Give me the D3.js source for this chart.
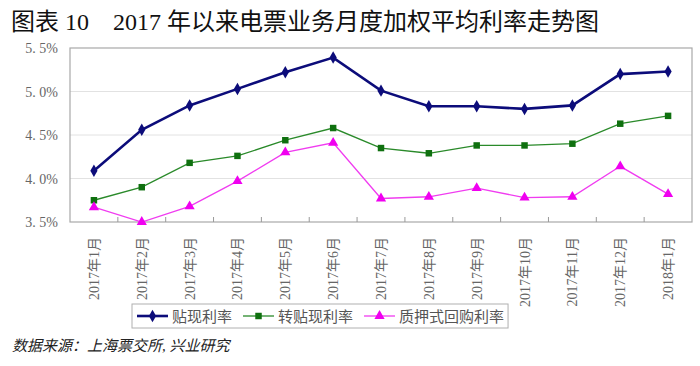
<!DOCTYPE html>
<html>
<head>
<meta charset="utf-8">
<script src="https://cdn.jsdelivr.net/npm/d3@7"></script>
<style>
  body { margin: 0; background: #fff; }
  svg { display: block; }
</style>
</head>
<body>
<div id="chart"></div>
<script>
// monthly weighted average rates of e-bills (%)
var months = ["2017年1月","2017年2月","2017年3月","2017年4月","2017年5月","2017年6月",
              "2017年7月","2017年8月","2017年9月","2017年10月","2017年11月","2017年12月","2018年1月"];
var discountRate   = [4.09, 4.56, 4.84, 5.03, 5.22, 5.39, 5.01, 4.83, 4.83, 4.80, 4.84, 5.20, 5.23];
var rediscountRate = [3.75, 3.90, 4.18, 4.26, 4.44, 4.58, 4.35, 4.29, 4.38, 4.38, 4.40, 4.63, 4.72];
var repoRate       = [3.67, 3.50, 3.68, 3.97, 4.30, 4.41, 3.77, 3.79, 3.89, 3.78, 3.79, 4.14, 3.82];
var seriesNames = ["贴现利率", "转贴现利率", "质押式回购利率"];
var yTicks = [3.5, 4.0, 4.5, 5.0, 5.5];

var W = 700, H = 366;
var plotL = 70, plotR = 692, plotT = 48, plotB = 222;
var serif = "'Liberation Serif','Times New Roman','Noto Sans CJK SC',serif";

var svg = d3.select("#chart").append("svg")
    .attr("width", W).attr("height", H);

// title
svg.append("text")
    .attr("x", 11).attr("y", 30)
    .attr("font-family", serif)
    .attr("font-size", "24px")
    .attr("fill", "#111")
    .text("图表 10\u00a0\u00a0\u00a0 2017 年以来电票业务月度加权平均利率走势图");

var x = d3.scalePoint().domain(months).range([plotL, plotR]).padding(0.5);
var y = d3.scaleLinear().domain([3.5, 5.5]).range([plotB, plotT]);

// gridlines
svg.append("g").selectAll("line")
    .data(yTicks.slice(1, -1))
    .enter().append("line")
    .attr("x1", plotL).attr("x2", plotR)
    .attr("y1", function(d){ return y(d); })
    .attr("y2", function(d){ return y(d); })
    .attr("stroke", "#e2e2e2").attr("stroke-width", 1);

// frame
svg.append("rect")
    .attr("x", plotL).attr("y", plotT)
    .attr("width", plotR - plotL).attr("height", plotB - plotT)
    .attr("fill", "none").attr("stroke", "#a8a8a8").attr("stroke-width", 1.2);

// y labels
svg.append("g").selectAll("text")
    .data(yTicks)
    .enter().append("text")
    .attr("x", 58)
    .attr("y", function(d){ return y(d) + 5; })
    .attr("text-anchor", "end")
    .attr("font-family", serif)
    .attr("font-size", "14px")
    .attr("fill", "#666")
    .text(function(d){ return d3.format(".1f")(d).replace(".", ". ") + "%"; });

// x ticks at category boundaries, pointing inward
var step = x.step();
svg.append("g").selectAll("line")
    .data(months.slice(1))
    .enter().append("line")
    .attr("x1", function(d){ return x(d) - step / 2; })
    .attr("x2", function(d){ return x(d) - step / 2; })
    .attr("y1", plotB - 5).attr("y2", plotB)
    .attr("stroke", "#999");

// x labels rotated
svg.append("g").selectAll("text")
    .data(months)
    .enter().append("text")
    .attr("transform", function(d){ return "translate(" + (x(d) + 5) + "," + 237 + ") rotate(-90)"; })
    .attr("text-anchor", "end")
    .attr("font-family", serif)
    .attr("font-size", "14px")
    .attr("fill", "#666")
    .text(function(d){ return d; });

var series = [
  {name: seriesNames[0], values: discountRate,   color: "#0c0c7a", width: 2.6, marker: d3.symbolDiamond, size: 45, mfill: "#0c0c7a"},
  {name: seriesNames[1], values: rediscountRate, color: "#2a8a2a", width: 1.3, marker: d3.symbolSquare,  size: 42, mfill: "#0f700f"},
  {name: seriesNames[2], values: repoRate,       color: "#f03cf0", width: 1.3, marker: d3.symbolTriangle, size: 45, mfill: "#f000f0"}
];

var line = d3.line()
    .x(function(d, i){ return x(months[i]); })
    .y(function(d){ return y(d); });

series.forEach(function(s){
    svg.append("path")
        .datum(s.values)
        .attr("d", line)
        .attr("fill", "none")
        .attr("stroke", s.color)
        .attr("stroke-width", s.width);
    svg.append("g").selectAll("path")
        .data(s.values)
        .enter().append("path")
        .attr("transform", function(d, i){ return "translate(" + x(months[i]) + "," + y(d) + ")"; })
        .attr("d", d3.symbol().type(s.marker).size(s.size))
        .attr("fill", s.mfill);
});

// legend
var legend = svg.append("g");
var lx = 137, ly = 316;
var legendBox = legend.append("rect")
    .attr("x", 132).attr("y", 304).attr("height", 24)
    .attr("fill", "#fff").attr("stroke", "#b0b0b0");
series.forEach(function(s){
    legend.append("line")
        .attr("x1", lx).attr("x2", lx + 31)
        .attr("y1", ly).attr("y2", ly)
        .attr("stroke", s.color).attr("stroke-width", s.width);
    legend.append("path")
        .attr("transform", "translate(" + (lx + 15.5) + "," + ly + ")")
        .attr("d", d3.symbol().type(s.marker).size(s.size))
        .attr("fill", s.mfill);
    var t = legend.append("text")
        .attr("x", lx + 35).attr("y", ly + 5.5)
        .attr("font-family", serif)
        .attr("font-size", "15px")
        .attr("fill", "#555")
        .text(s.name);
    lx = lx + 35 + t.node().getComputedTextLength() + 11;
});
legendBox.attr("width", lx - 11 + 4 - 132);

// source note
svg.append("text")
    .attr("x", 12).attr("y", 351)
    .attr("font-family", serif)
    .attr("font-size", "15px")
    .attr("font-style", "italic")
    .attr("fill", "#222")
    .text("数据来源：上海票交所, 兴业研究");
</script>
</body>
</html>
